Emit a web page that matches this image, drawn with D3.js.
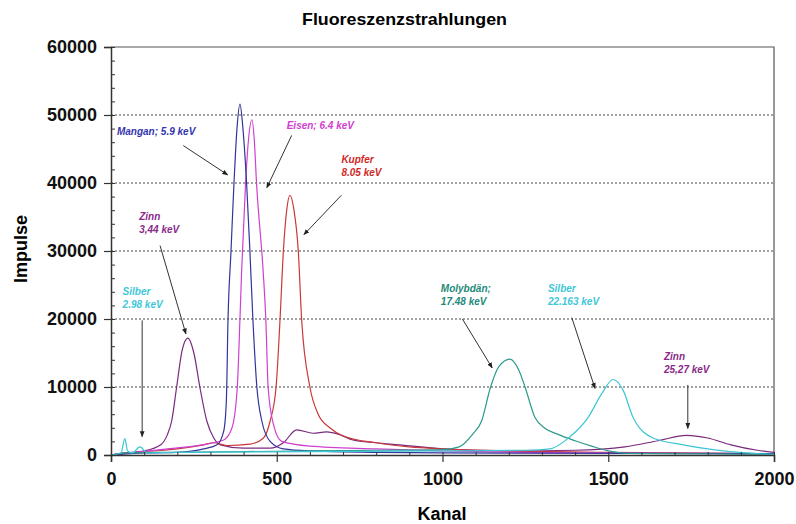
<!DOCTYPE html>
<html>
<head>
<meta charset="utf-8">
<script src="https://cdn.jsdelivr.net/npm/d3@7"></script>
<style>
  body { margin: 0; background: #fff; }
  text { font-family: "Liberation Sans", Arial, sans-serif; }
</style>
</head>
<body>
<svg id="chart" width="796" height="524"></svg>
<script>
'use strict'

// [kanal, impulse] pairs
const mangan = [[0, 0], [100, 300], [200, 400], [280, 900], [320, 1500], [340, 3500], [348, 8000], [353, 20000],
  [362, 30000], [371, 40000], [380, 48000], [389, 51600], [398, 48000], [409, 40000], [419, 30000], [428, 20000],
  [440, 10000], [455, 5000], [480, 2000], [520, 900], [600, 600], [800, 400], [1000, 300], [2000, 200]]
const eisen = [[0, 0], [60, 300], [150, 800], [250, 1300], [300, 1700], [340, 2200], [365, 4000], [381, 10000],
  [389, 20000], [394, 27000], [406, 40000], [415, 46500], [425, 49300], [432, 46500], [439, 40000], [459, 27000],
  [467, 20000], [474, 10000], [490, 4500], [515, 2000], [600, 1300], [800, 900], [1000, 600], [1500, 300], [2000, 200]]
const kupfer = [[0, 0], [80, 400], [200, 900], [280, 1500], [310, 1800], [350, 1400], [420, 1600], [460, 2500],
  [480, 5000], [498, 10000], [510, 20000], [520, 30000], [530, 36000], [540, 38200], [552, 36000], [565, 30000],
  [575, 20000], [600, 10000], [625, 6000], [660, 4000], [700, 2800], [800, 1800], [900, 1200], [1000, 900],
  [1200, 600], [1500, 400], [2000, 200]]
const zinn = [[0, 0], [40, 300], [100, 600], [150, 1500], [170, 3000], [183, 5000], [198, 10000], [215, 15500],
  [232, 17200], [250, 15000], [268, 10000], [289, 5000], [310, 2500], [330, 1500], [400, 1000], [480, 1000],
  [520, 1800], [560, 3700], [610, 3200], [650, 3400], [690, 3000], [730, 2200], [800, 1800], [870, 1500],
  [1000, 900], [1200, 600], [1400, 700], [1550, 1200], [1650, 2100], [1737, 2900], [1800, 2500], [1870, 1500],
  [1950, 700], [2000, 400]]
const molybdaen = [[0, 0], [50, 300], [200, 400], [400, 500], [600, 600], [800, 700], [1000, 800], [1050, 1200],
  [1090, 3000], [1118, 5000], [1145, 10000], [1170, 13000], [1204, 14100], [1230, 12500], [1249, 10000],
  [1279, 5500], [1310, 3900], [1350, 3000], [1400, 2100], [1450, 1300], [1500, 600], [1560, 250], [2000, 100]]
const silber = [[0, 0], [30, 300], [42, 2400], [50, 600], [65, 300], [87, 1200], [110, 300], [200, 400], [600, 500],
  [1000, 600], [1250, 700], [1324, 900], [1380, 2500], [1439, 5500], [1480, 9000], [1515, 11100], [1545, 9500],
  [1575, 5500], [1635, 2500], [1726, 1500], [1800, 900], [1867, 500], [1950, 200], [2000, 100]]

const xTicks = [0, 500, 1000, 1500, 2000]
const yTicks = [0, 10000, 20000, 30000, 40000, 50000, 60000]

// name, data, colour
const series = [
  ['Zinn', zinn, '#7a2a7c'],
  ['Kupfer', kupfer, '#c8383a'],
  ['Eisen', eisen, '#d040d0'],
  ['Mangan', mangan, '#34349c'],
  ['Molybdän', molybdaen, '#2a9a8a'],
  ['Silber', silber, '#3cc6d4']
]

// label lines, anchor [kanal, impulse] for text, arrow from/to in [kanal, impulse]
const notes = [
  {lines: ['Mangan; 5.9 keV'], color: '#3434b0', at: [18, 47000], from: [218, 45500], to: [352, 41200]},
  {lines: ['Eisen; 6.4 keV'], color: '#d040d0', at: [530, 48000], from: [545, 47000], to: [470, 39300]},
  {lines: ['Kupfer', '8.05 keV'], color: '#d02828', at: [695, 43000], from: [695, 38200], to: [582, 32400]},
  {lines: ['Zinn', '3,44 keV'], color: '#8a2a8a', at: [85, 34500], from: [148, 30800], to: [226, 17800]},
  {lines: ['Silber', '2.98 keV'], color: '#40c8d8', at: [35, 23600], from: [94, 19800], to: [94, 2700]},
  {lines: ['Molybdän;', '17.48 keV'], color: '#1e8a7a', at: [995, 23900], from: [1060, 20000], to: [1150, 12800]},
  {lines: ['Silber', '22.163 keV'], color: '#40c8d8', at: [1318, 23900], from: [1390, 20200], to: [1460, 9800]},
  {lines: ['Zinn', '25,27 keV'], color: '#8a2a8a', at: [1668, 13900], from: [1740, 10300], to: [1740, 3900]}
]

const svg = d3.select('#chart')
const m = {left: 111, right: 22, top: 47, bottom: 69}
const W = 796 - m.left - m.right
const H = 524 - m.top - m.bottom
const g = svg.append('g').attr('transform', `translate(${m.left},${m.top})`)

const x = d3.scaleLinear().domain([0, 2000]).range([0, W])
const y = d3.scaleLinear().domain([0, 60000]).range([H, 0])

svg.append('defs').append('marker')
  .attr('id', 'arrow')
  .attr('viewBox', '0 0 10 10')
  .attr('refX', 9).attr('refY', 5)
  .attr('markerWidth', 6).attr('markerHeight', 6)
  .attr('orient', 'auto')
  .append('path').attr('d', 'M0,1 L10,5 L0,9 Z').attr('fill', '#222')

// grid
g.append('g').selectAll('line')
  .data(yTicks.filter(d => d > 0 && d < 60000))
  .join('line')
  .attr('x1', 0).attr('x2', W)
  .attr('y1', d => y(d)).attr('y2', d => y(d))
  .attr('stroke', '#444').attr('stroke-width', 1)
  .attr('stroke-dasharray', '2,2')

// frame top and right
g.append('path')
  .attr('d', `M0,0 H${W} V${H}`)
  .attr('fill', 'none').attr('stroke', '#555').attr('stroke-width', 1.2)

// curves
const line = d3.line()
  .x(d => x(d[0]))
  .y(d => y(d[1]))
  .curve(d3.curveMonotoneX)
g.append('g').selectAll('path')
  .data(series)
  .join('path')
  .attr('d', d => line(d[1]))
  .attr('fill', 'none')
  .attr('stroke', d => d[2])
  .attr('stroke-width', 1.2)

// axes
const yMinor = d3.axisRight(y).tickValues(d3.range(0, 60001, 2000)).tickSize(4).tickFormat('')
g.append('g').call(yMinor).call(s => s.select('.domain').remove())
  .selectAll('line').attr('stroke', '#333')
const xMinor = d3.axisTop(x).tickValues(d3.range(0, 2001, 100)).tickSize(3).tickFormat('')
g.append('g').attr('transform', `translate(0,${H})`).call(xMinor)
  .call(s => s.select('.domain').remove())
  .selectAll('line').attr('stroke', '#333')

const yAxis = d3.axisLeft(y).tickValues(yTicks).tickSize(7).tickPadding(7).tickFormat(d3.format('d'))
g.append('g').call(yAxis)
  .call(s => s.select('.domain').attr('stroke', '#333').attr('stroke-width', 1.5))
  .call(s => s.selectAll('line').attr('stroke', '#333').attr('stroke-width', 1.2))
  .selectAll('text')
  .attr('font-size', 18).attr('font-weight', 'bold').attr('fill', '#111')

const xAxis = d3.axisBottom(x).tickValues(xTicks).tickSize(7).tickPadding(10).tickFormat(d3.format('d'))
g.append('g').attr('transform', `translate(0,${H})`).call(xAxis)
  .call(s => s.select('.domain').attr('stroke', '#333').attr('stroke-width', 1.5))
  .call(s => s.selectAll('line').attr('stroke', '#333').attr('stroke-width', 1.2))
  .selectAll('text')
  .attr('font-size', 18).attr('font-weight', 'bold').attr('fill', '#111')

// annotations
const ann = g.append('g')
notes.forEach(function (n) {
  const t = ann.append('text')
    .attr('x', x(n.at[0])).attr('y', y(n.at[1]))
    .attr('font-size', 10).attr('font-weight', 'bold').attr('font-style', 'italic')
    .attr('fill', n.color)
  n.lines.forEach(function (l, i) {
    t.append('tspan').attr('x', x(n.at[0])).attr('dy', i === 0 ? 0 : 13).text(l)
  })
  ann.append('line')
    .attr('x1', x(n.from[0])).attr('y1', y(n.from[1]))
    .attr('x2', x(n.to[0])).attr('y2', y(n.to[1]))
    .attr('stroke', '#333').attr('stroke-width', 1)
    .attr('marker-end', 'url(#arrow)')
})

// titles
svg.append('text')
  .attr('x', 302).attr('y', 25)
  .attr('font-size', 17).attr('font-weight', 'bold')
  .attr('textLength', 205).attr('lengthAdjust', 'spacingAndGlyphs')
  .text('Fluoreszenzstrahlungen')
svg.append('text')
  .attr('x', 442).attr('y', 520)
  .attr('text-anchor', 'middle')
  .attr('font-size', 18).attr('font-weight', 'bold')
  .text('Kanal')
svg.append('text')
  .attr('transform', 'translate(27,249) rotate(-90)')
  .attr('text-anchor', 'middle')
  .attr('font-size', 18).attr('font-weight', 'bold')
  .text('Impulse')
</script>
</body>
</html>
